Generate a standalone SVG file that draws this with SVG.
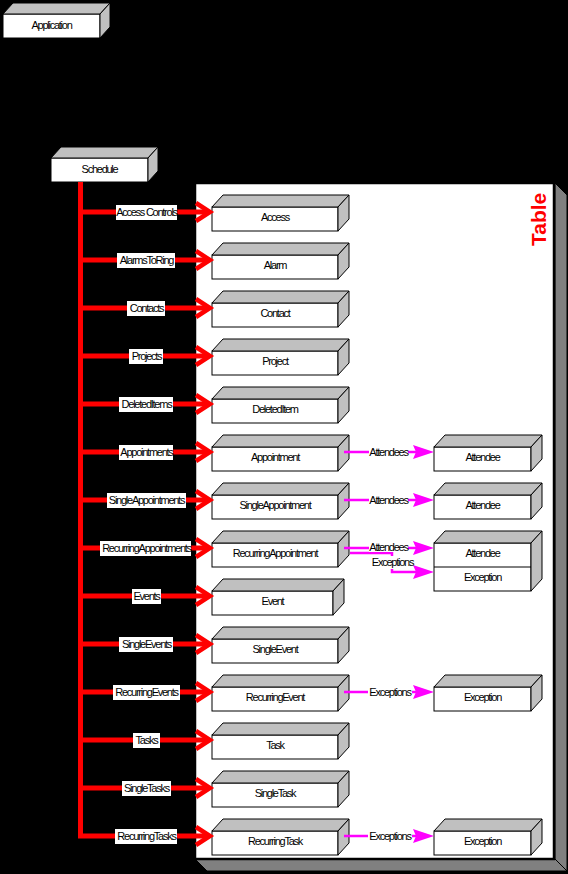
<svg xmlns="http://www.w3.org/2000/svg" width="568" height="874" viewBox="0 0 568 874">
<style>
.bg{fill:#000}
.front{fill:#fff;stroke:#000;stroke-width:1}
.face{fill:#c0c0c0;stroke:#000;stroke-width:1;stroke-linejoin:miter}
.t{font-family:"Liberation Sans",Arial,sans-serif;font-size:11px;letter-spacing:-1.25px;fill:#000;text-anchor:middle}
.lbl{fill:#fff}
.red{fill:none;stroke:#ff0000;stroke-width:5;stroke-linejoin:miter}
.rhead{fill:none;stroke:#ff0000;stroke-width:4.5;stroke-linejoin:miter;stroke-linecap:butt}
.mag{fill:none;stroke:#ff00ff;stroke-width:2.5}
.mhead{fill:#ff00ff}
.panel{fill:#fff;stroke:#000;stroke-width:2.5}
.shadow{fill:#808080;stroke:#000;stroke-width:1}
.title{font-family:"Liberation Sans",Arial,sans-serif;font-size:21px;font-weight:bold;fill:#ff0000}
</style>
<defs>
<g id="box126">
<rect class="front" x="0" y="0" width="126" height="24"/>
<polygon class="face" points="0,0 11,-12 137,-12 126,0"/>
<polygon class="face" points="126,0 137,-12 137,12 126,24"/>
</g>
<g id="box121">
<rect class="front" x="0" y="0" width="121" height="24"/>
<polygon class="face" points="0,0 11,-12 132,-12 121,0"/>
<polygon class="face" points="121,0 132,-12 132,12 121,24"/>
</g>
<g id="box97">
<rect class="front" x="0" y="0" width="97" height="24"/>
<polygon class="face" points="0,0 11,-12 108,-12 97,0"/>
<polygon class="face" points="97,0 108,-12 108,12 97,24"/>
</g>
<g id="stack97">
<rect class="front" x="0" y="0" width="97" height="48"/>
<line x1="0" y1="24" x2="97" y2="24" stroke="#000" stroke-width="1"/>
<polygon class="face" points="0,0 11,-12 108,-12 97,0"/>
<polygon class="face" points="97,0 108,-12 108,36 97,48"/>
</g>
<g id="boxTop">
<rect class="front" x="0" y="0" width="97" height="24"/>
<polygon class="face" points="0,0 10,-11 107,-11 97,0"/>
<polygon class="face" points="97,0 107,-11 107,13 97,24"/>
</g>
<path id="rarrow" class="rhead" d="M-14,-9 L0,0 L-14,9"/>
<polygon id="marrow" class="mhead" points="-21,-7 0,0 -21,7 -18,0"/>
</defs>

<rect class="bg" x="0" y="0" width="568" height="874"/>

<!-- Table panel -->
<g id="table-panel">
<polygon class="shadow" points="555,183 567,195 567,871 555,859"/>
<polygon class="shadow" points="195,859 207,871 567,871 555,859"/>
<rect class="panel" x="195" y="183" width="359" height="676"/>
<text class="title" transform="translate(546,246) rotate(-90)">Table</text>
</g>

<g id="application">
<use href="#boxTop" x="3" y="14"/>
<text class="t" x="51.5" y="29">Application</text>
</g>
<g id="schedule">
<use href="#boxTop" x="51" y="158"/>
<text class="t" x="99.5" y="173">Schedule</text>
</g>

<!-- nodes -->
<g id="n-access"><use href="#box126" x="212" y="207"/><text class="t" x="275" y="221">Access</text></g>
<g id="n-alarm"><use href="#box126" x="212" y="255"/><text class="t" x="275" y="269">Alarm</text></g>
<g id="n-contact"><use href="#box126" x="212" y="303"/><text class="t" x="275" y="317">Contact</text></g>
<g id="n-project"><use href="#box126" x="212" y="351"/><text class="t" x="275" y="365">Project</text></g>
<g id="n-deleteditem"><use href="#box126" x="212" y="399"/><text class="t" x="275" y="413">DeletedItem</text></g>
<g id="n-appointment"><use href="#box126" x="212" y="447"/><text class="t" x="275" y="461">Appointment</text></g>
<g id="n-singleappointment"><use href="#box126" x="212" y="495"/><text class="t" x="275" y="509">SingleAppointment</text></g>
<g id="n-recurringappointment"><use href="#box126" x="212" y="543"/><text class="t" x="275" y="557">RecurringAppointment</text></g>
<g id="n-event"><use href="#box121" x="212" y="591"/><text class="t" x="272.5" y="605">Event</text></g>
<g id="n-singleevent"><use href="#box126" x="212" y="639"/><text class="t" x="275" y="653">SingleEvent</text></g>
<g id="n-recurringevent"><use href="#box126" x="212" y="687"/><text class="t" x="275" y="701">RecurringEvent</text></g>
<g id="n-task"><use href="#box126" x="212" y="735"/><text class="t" x="275" y="749">Task</text></g>
<g id="n-singletask"><use href="#box126" x="212" y="783"/><text class="t" x="275" y="797">SingleTask</text></g>
<g id="n-recurringtask"><use href="#box126" x="212" y="831"/><text class="t" x="275" y="845">RecurringTask</text></g>

<g id="n-attendee-1"><use href="#box97" x="434" y="447"/><text class="t" x="482.5" y="461">Attendee</text></g>
<g id="n-attendee-2"><use href="#box97" x="434" y="495"/><text class="t" x="482.5" y="509">Attendee</text></g>
<g id="n-attendee-exception"><use href="#stack97" x="434" y="543"/><text class="t" x="482.5" y="557">Attendee</text><text class="t" x="482.5" y="581">Exception</text></g>
<g id="n-exception-1"><use href="#box97" x="434" y="687"/><text class="t" x="482.5" y="701">Exception</text></g>
<g id="n-exception-2"><use href="#box97" x="434" y="831"/><text class="t" x="482.5" y="845">Exception</text></g>

<!-- connectors -->
<g id="connectors">
<path class="red" d="M80.5,182 V836 H206"/>
<path class="red" d="M80.5,212 H206 M80.5,260 H206 M80.5,308 H206 M80.5,356 H206 M80.5,404 H206 M80.5,452 H206 M80.5,500 H206 M80.5,548 H206 M80.5,596 H206 M80.5,644 H206 M80.5,692 H206 M80.5,740 H206 M80.5,788 H206"/>
<use href="#rarrow" x="210" y="212"/>
<use href="#rarrow" x="210" y="260"/>
<use href="#rarrow" x="210" y="308"/>
<use href="#rarrow" x="210" y="356"/>
<use href="#rarrow" x="210" y="404"/>
<use href="#rarrow" x="210" y="452"/>
<use href="#rarrow" x="210" y="500"/>
<use href="#rarrow" x="210" y="548"/>
<use href="#rarrow" x="210" y="596"/>
<use href="#rarrow" x="210" y="644"/>
<use href="#rarrow" x="210" y="692"/>
<use href="#rarrow" x="210" y="740"/>
<use href="#rarrow" x="210" y="788"/>
<use href="#rarrow" x="210" y="836"/>

<rect class="lbl" x="116" y="205" width="61" height="15"/><text class="t" x="146.5" y="216">Access Controls</text>
<rect class="lbl" x="117" y="253" width="58" height="15"/><text class="t" x="146.5" y="264">AlarmsToRing</text>
<rect class="lbl" x="127" y="301" width="38" height="15"/><text class="t" x="146.5" y="312">Contacts</text>
<rect class="lbl" x="129" y="349" width="34" height="15"/><text class="t" x="146.5" y="360">Projects</text>
<rect class="lbl" x="119" y="397" width="54" height="15"/><text class="t" x="146.5" y="408">DeletedItems</text>
<rect class="lbl" x="119" y="445" width="54" height="15"/><text class="t" x="146.5" y="456">Appointments</text>
<rect class="lbl" x="107" y="493" width="79" height="15"/><text class="t" x="146.5" y="504">SingleAppointments</text>
<rect class="lbl" x="100" y="541" width="91" height="15"/><text class="t" x="146.5" y="552">RecurringAppointments</text>
<rect class="lbl" x="132" y="589" width="29" height="15"/><text class="t" x="146.5" y="600">Events</text>
<rect class="lbl" x="119" y="637" width="54" height="15"/><text class="t" x="146.5" y="648">SingleEvents</text>
<rect class="lbl" x="113" y="685" width="67" height="15"/><text class="t" x="146.5" y="696">RecurringEvents</text>
<rect class="lbl" x="133" y="733" width="27" height="15"/><text class="t" x="146.5" y="744">Tasks</text>
<rect class="lbl" x="122" y="781" width="49" height="15"/><text class="t" x="146.5" y="792">SingleTasks</text>
<rect class="lbl" x="115" y="829" width="62" height="15"/><text class="t" x="146.5" y="840">RecurringTasks</text>

<path class="mag" d="M344,452 H416 M344,500 H416 M344,548 H416 M350,553 H392 V572 H416 M344,692 H416 M344,836 H416"/>
<use href="#marrow" x="434" y="452"/>
<use href="#marrow" x="434" y="500"/>
<use href="#marrow" x="434" y="548"/>
<use href="#marrow" x="434" y="572"/>
<use href="#marrow" x="434" y="692"/>
<use href="#marrow" x="434" y="836"/>
<rect class="lbl" x="369" y="445" width="39" height="14"/><text class="t" x="388.5" y="456">Attendees</text>
<rect class="lbl" x="369" y="493" width="39" height="14"/><text class="t" x="388.5" y="504">Attendees</text>
<rect class="lbl" x="369" y="541" width="39" height="11"/><text class="t" x="388.5" y="551">Attendees</text>
<rect class="lbl" x="372" y="556" width="41" height="13"/><text class="t" x="392.5" y="566">Exceptions</text>
<rect class="lbl" x="368" y="685" width="44" height="14"/><text class="t" x="390" y="696">Exceptions</text>
<rect class="lbl" x="368" y="829" width="44" height="14"/><text class="t" x="390" y="840">Exceptions</text>
</g>
</svg>
